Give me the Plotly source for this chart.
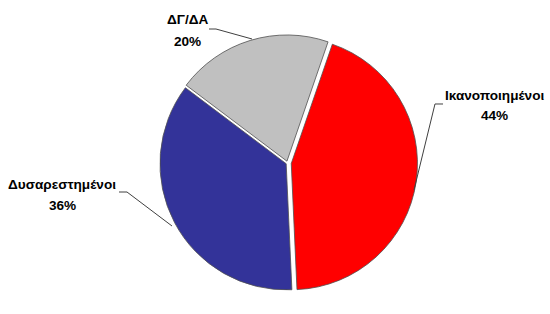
import plotly.graph_objects as go

labels = ["Ικανοποιημένοι", "Δυσαρεστημένοι", "ΔΓ/ΔΑ"]
values = [44, 36, 20]
colors = ["#FF0000", "#333399", "#C0C0C0"]

W, H = 550, 314

def px(x, y):
    return x / W, 1 - y / H

fig = go.Figure(go.Pie(
    labels=labels, values=values, sort=False, direction="clockwise", rotation=19,
    marker=dict(colors=colors, line=dict(color="#505050", width=0.8)),
    pull=[0.03, 0.012, 0.015], textinfo="none", hoverinfo="label+percent",
    domain=dict(x=[0.2864, 0.7591], y=[0.0669, 0.8949]),
    showlegend=False,
))

font = dict(family="Liberation Sans, Arial, sans-serif", size=13.6, color="black")
label_pos = [(494, 95, 116), (62, 184, 205), (187, 20, 42)]
total = sum(values)
ann = []
for lab, v, (cx, y1, y2) in zip(labels, values, label_pos):
    for txt, yy in ((f"<b>{lab}</b>", y1), (f"<b>{round(100*v/total)}%</b>", y2)):
        x, y = px(cx, yy)
        ann.append(dict(text=txt, x=x, y=y, xref="paper", yref="paper",
                        xanchor="center", yanchor="middle", showarrow=False, font=font))

leaders = [
    [(443, 104), (435, 104), (414, 190)],
    [(119, 192), (127, 192), (172, 226)],
    [(209, 29), (216, 29), (252, 39)],
]
shapes = []
for pts in leaders:
    path = "M " + " L ".join(f"{px(x, y)[0]:.4f},{px(x, y)[1]:.4f}" for x, y in pts)
    shapes.append(dict(type="path", path=path, xref="paper", yref="paper",
                       line=dict(color="#404040", width=1)))

fig.update_layout(width=W, height=H, margin=dict(l=0, r=0, t=0, b=0),
                  paper_bgcolor="white", plot_bgcolor="white",
                  annotations=ann, shapes=shapes)
fig.write_html("out.html")
